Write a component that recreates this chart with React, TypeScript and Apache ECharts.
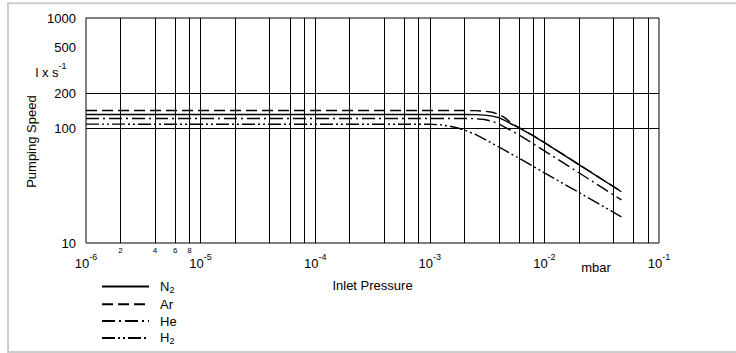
import React, { useEffect, useRef } from "react";
import * as echarts from "echarts";

const FONT = "'Liberation Sans', Arial, Helvetica, sans-serif";

// Axes
const X_MIN = 1e-6;
const X_MAX = 1e-1;
const Y_MIN = 10;
const Y_TOP = 905; // the reference frame's top edge sits slightly below 1000
const Y_LABELS = [10, 100, 200, 500, 1000];
const Y_GRID = [100, 200];
const X_GRID = [
  2e-6, 4e-6, 6e-6, 8e-6, 1e-5,
  2e-5, 4e-5, 6e-5, 8e-5, 1e-4,
  2e-4, 4e-4, 6e-4, 8e-4, 1e-3,
  2e-3, 4e-3, 6e-3, 8e-3, 1e-2,
  2e-2, 4e-2, 6e-2, 8e-2,
];
const X_MINOR_LABEL_VALUES = [2e-6, 4e-6, 6e-6, 8e-6];
const X_MINOR_LABELS = ["2", "4", "6", "8"];

// Series (inlet pressure in mbar, pumping speed in l/s)
const N2_P = [1e-6, 1e-3, 2e-3, 2.5e-3, 3e-3, 3.5e-3, 4e-3, 4.5e-3, 5e-3, 5.5e-3, 6e-3, 7e-3, 8e-3, 1e-2, 2e-2, 4.7e-2];
const N2_S = [131, 131, 131, 130.8, 129.5, 127, 123, 116.5, 110, 105, 100.5, 92.2, 85.5, 74.5, 48, 27.9];

const AR_P = [1e-6, 2e-3, 2.5e-3, 3e-3, 3.5e-3, 4e-3, 4.5e-3, 5e-3, 5.5e-3, 6e-3, 7e-3, 8e-3, 1e-2, 2e-2, 4.7e-2];
const AR_S = [142, 142, 141.5, 140, 137, 131.5, 123, 113, 106, 101, 92.5, 85.8, 74.8, 48.2, 28];

const HE_P = [1e-6, 2e-3, 2.5e-3, 3e-3, 3.5e-3, 4e-3, 4.5e-3, 5e-3, 5.5e-3, 6e-3, 7e-3, 8e-3, 1e-2, 2e-2, 4.7e-2];
const HE_S = [121, 121, 120.5, 118.5, 114.5, 108.5, 102, 96.5, 91.5, 87, 79.2, 73, 63.3, 40.8, 23.7];

const H2_P = [1e-6, 1e-3, 1.25e-3, 1.5e-3, 1.75e-3, 2e-3, 2.5e-3, 3e-3, 4e-3, 6e-3, 1e-2, 2e-2, 4.7e-2];
const H2_S = [108, 107.8, 106.5, 103.5, 100, 96, 88, 80, 68.5, 54.6, 40.8, 27.5, 16.9];

const SERIES = [
  { name: "N2", p: N2_P, s: N2_S, dash: "solid" as any },
  { name: "Ar", p: AR_P, s: AR_S, dash: [11, 5] },
  { name: "He", p: HE_P, s: HE_S, dash: [13, 4, 2, 4] },
  { name: "H2", p: H2_P, s: H2_S, dash: [13, 3, 2, 3, 2, 3] },
];

const SUP_RICH = {
  b: { fontSize: 13, lineHeight: 14, verticalAlign: "bottom", fontFamily: FONT, color: "#000" },
  s: { fontSize: 9, lineHeight: 10, verticalAlign: "bottom", padding: [0, 0, 9, 0], fontFamily: FONT, color: "#000" },
};

export default function App() {
  const ref = useRef<HTMLDivElement>(null);
  useEffect(() => {
    if (!ref.current) return;
    const chart = echarts.init(ref.current, undefined, { renderer: "svg" });

    const gridLines: any[] = [];
    X_GRID.forEach((v) => {
      const idx = X_MINOR_LABEL_VALUES.indexOf(v);
      gridLines.push({
        xAxis: v,
        label:
          idx >= 0
            ? { show: true, position: "start", formatter: X_MINOR_LABELS[idx], fontSize: 8, distance: 3, color: "#000", fontFamily: FONT }
            : { show: false },
      });
    });
    Y_LABELS.forEach((v) => {
      const visible = Y_GRID.indexOf(v) >= 0;
      gridLines.push({
        yAxis: Math.min(v, Y_TOP),
        lineStyle: visible ? { color: "#000", width: 1 } : { color: "rgba(0,0,0,0)", width: 0 },
        label: { show: true, position: "start", formatter: String(v), fontSize: 13, distance: 10, color: "#000", fontFamily: FONT },
      });
    });

    const option: any = {
      animation: false,
      textStyle: { fontFamily: FONT },
      grid: { left: 86, right: 77, top: 18, bottom: 110, show: true, borderColor: "#000", borderWidth: 1, backgroundColor: "transparent" },
      xAxis: {
        type: "log",
        logBase: 10,
        min: X_MIN,
        max: X_MAX,
        axisLine: { show: false },
        axisTick: { show: false },
        splitLine: { show: false },
        name: "Inlet Pressure",
        nameLocation: "middle",
        nameGap: 36,
        nameTextStyle: { fontSize: 13, color: "#000", fontFamily: FONT },
        axisLabel: {
          margin: 13,
          color: "#000",
          formatter: (v: number) => `{b|10}{s|${Math.round(Math.log10(v))}}`,
          rich: SUP_RICH,
        },
      },
      yAxis: {
        type: "log",
        logBase: 10,
        min: Y_MIN,
        max: Y_TOP,
        axisLine: { show: false },
        axisTick: { show: false },
        axisLabel: { show: false },
        splitLine: { show: false },
      },
      legend: {
        data: SERIES.map((s) => s.name),
        orient: "vertical",
        left: 101,
        top: 280,
        padding: 0,
        itemWidth: 47,
        itemHeight: 14,
        itemGap: 3.8,
        selectedMode: false,
        itemStyle: { opacity: 0 },
        formatter: (name: string) => name.replace(/(\d)/, "{sub|$1}"),
        textStyle: {
          fontSize: 13,
          color: "#000",
          fontFamily: FONT,
          padding: [0, 0, 0, 6],
          rich: { sub: { fontSize: 9, verticalAlign: "bottom", padding: [6, 0, 0, 0], fontFamily: FONT, color: "#000" } },
        },
      },
      graphic: [
        { type: "rect", shape: { x: 8, y: 3.3, width: 760, height: 348.7 }, style: { fill: "none", stroke: "#cccccc", lineWidth: 2 }, silent: true },
        { type: "text", x: 31.5, y: 141.6, rotation: Math.PI / 2, style: { text: "Pumping Speed", font: `13px ${FONT}`, fill: "#000", align: "center", verticalAlign: "middle" } },
        {
          type: "text", x: 51, y: 72,
          style: {
            text: "{b|l x s}{s|-1}", align: "center", verticalAlign: "middle", fill: "#000",
            rich: SUP_RICH,
          },
        },
        { type: "text", x: 596, y: 267, style: { text: "mbar", font: `13px ${FONT}`, fill: "#000", align: "center", verticalAlign: "middle" } },
      ],
      series: [
        {
          name: "grid",
          type: "line",
          data: [],
          silent: true,
          z: 1,
          markLine: {
            silent: true,
            precision: 12,
            symbol: ["none", "none"],
            animation: false,
            lineStyle: { color: "#000", width: 1, type: "solid" },
            label: { show: false },
            emphasis: { disabled: true },
            data: gridLines,
          },
        },
        ...SERIES.map((s) => ({
          name: s.name,
          type: "line",
          data: s.p.map((x, i) => [x, s.s[i]]),
          symbol: "none",
          showSymbol: false,
          smooth: false,
          silent: true,
          z: 3,
          lineStyle: { color: "#000", width: 1.4, type: s.dash },
          itemStyle: { color: "#000" },
        })),
      ],
    };
    chart.setOption(option);
    return () => chart.dispose();
  }, []);
  return <div ref={ref} style={{ position: "absolute", left: 0, top: 0, width: 736, height: 353 }} />;
}
